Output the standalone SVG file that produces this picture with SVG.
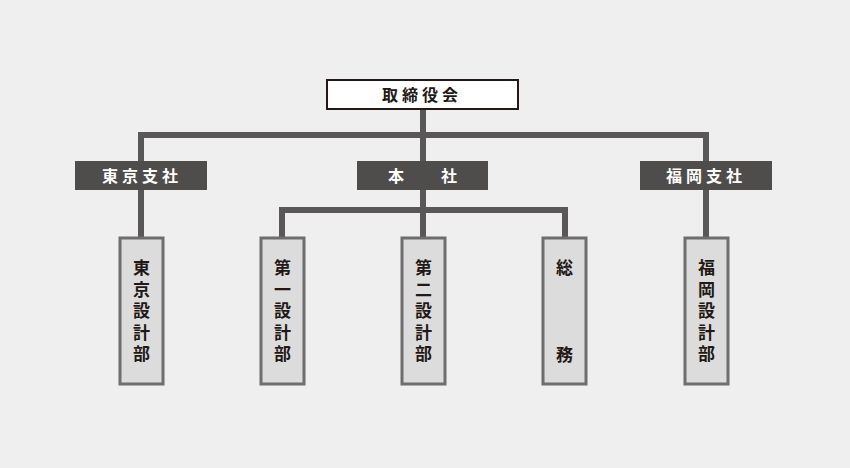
<svg xmlns="http://www.w3.org/2000/svg" width="850" height="468" viewBox="0 0 850 468">
<style>
.ln{stroke:#595757;stroke-width:6;fill:none}
.top{fill:#ffffff;stroke:#231815;stroke-width:2}
.br{fill:#4f4c4c}
.dp{fill:#dcdcdc;stroke:#6f6d6d;stroke-width:3}
text{font-family:"Noto Sans CJK JP","Noto Sans",sans-serif;font-size:16px}
.tt{fill:#231815;font-weight:bold;letter-spacing:4px}
.bt{fill:#ffffff;font-weight:bold;letter-spacing:4px}
.dt{fill:#231815;font-weight:bold;font-size:17px;writing-mode:vertical-rl;text-orientation:upright;letter-spacing:4.5px}
</style>
<rect width="850" height="468" fill="#efefef"/>
<g id="connectors">
<path class="ln" d="M423 109V135M141 135H706M141 132V190M706 132V190M423 132V161M141 190V238M706 190V238M423 190V238M282 210H565M282 207V238M565 207V238"/>
</g>
<g id="n-torishimariyakukai">
<rect class="top" x="327" y="80" width="191" height="29"/>
<text class="tt" x="382" y="101">取締役会</text>
</g>
<g id="n-tokyo-shisha">
<rect class="br" x="75" y="161" width="132" height="29"/>
<text class="bt" x="102" y="182">東京支社</text>
</g>
<g id="n-honsha">
<rect class="br" x="357" y="161" width="131" height="29"/>
<text class="bt" x="388" y="182">本<tspan x="441">社</tspan></text>
</g>
<g id="n-fukuoka-shisha">
<rect class="br" x="640" y="161" width="132" height="29"/>
<text class="bt" x="666" y="182">福岡支社</text>
</g>
<g id="n-tokyo-sekkei">
<rect class="dp" x="120" y="238" width="43" height="146"/>
<text class="dt" x="141.5" y="259.5">東京設計部</text>
</g>
<g id="n-daiichi-sekkei">
<rect class="dp" x="261" y="238" width="43" height="146"/>
<text class="dt" x="282.5" y="259.5">第一設計部</text>
</g>
<g id="n-daini-sekkei">
<rect class="dp" x="402" y="238" width="43" height="146"/>
<text class="dt" x="423.5" y="259.5">第二設計部</text>
</g>
<g id="n-somu">
<rect class="dp" x="543" y="238" width="43" height="146"/>
<text class="dt" x="564.5" y="259.5">総</text>
<text class="dt" x="564.5" y="346.5">務</text>
</g>
<g id="n-fukuoka-sekkei">
<rect class="dp" x="685" y="238" width="43" height="146"/>
<text class="dt" x="706.5" y="259.5">福岡設計部</text>
</g>
</svg>
